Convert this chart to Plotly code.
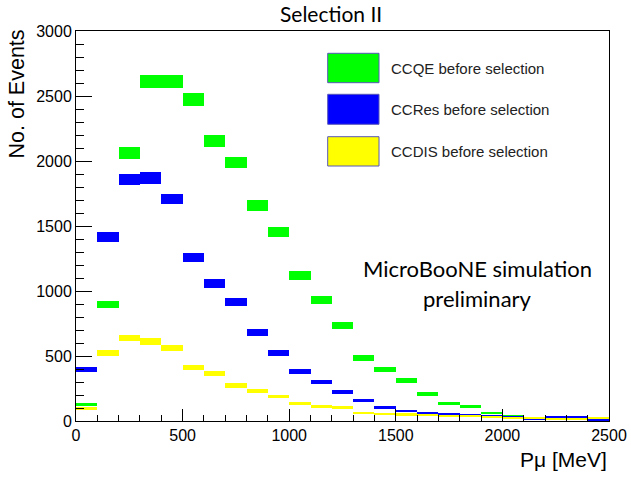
import numpy as np
import plotly.graph_objects as go

# Muon momentum bins, 100 MeV wide, 0-2500 MeV
bin_edges = list(range(0, 2600, 100))
bin_centers = [(a + b) / 2 for a, b in zip(bin_edges[:-1], bin_edges[1:])]

ccqe = [128, 897, 2064, 2610, 2610, 2474, 2151, 1990, 1656, 1451,
        1118, 928, 736, 487, 395, 313, 210, 131, 110, 64,
        41, 22, 21, 21, 12]
ccres = [395, 1418, 1859, 1869, 1707, 1256, 1059, 913, 682, 525,
         379, 300, 221, 156, 103, 79, 64, 54, 49, 38,
         33, 14, 33, 33, 10]
ccdis = [97, 525, 638, 613, 559, 413, 367, 274, 233, 187,
         133, 110, 103, 59, 54, 52, 47, 41, 38, 33,
         28, 25, 16, 14, 21]

series_names = ["CCQE before selection", "CCRes before selection", "CCDIS before selection"]
series_values = [ccqe, ccres, ccdis]
series_colors = ["#00ff00", "#0000ff", "#ffff00"]

x_ticks = [0, 500, 1000, 1500, 2000, 2500]
y_ticks = [0, 500, 1000, 1500, 2000, 2500, 3000]

fig = go.Figure()

# Each bin drawn as a filled error box: value +/- sqrt(N)
for name, vals, col in zip(series_names, series_values, series_colors):
    v = np.array(vals, dtype=float)
    err = np.sqrt(v)
    fig.add_trace(go.Bar(
        x=bin_centers, y=2 * err, base=v - err, width=100,
        name=name, marker=dict(color=col, line=dict(width=0)),
        showlegend=False, hoverinfo="skip",
    ))

# Legend drawn as boxes with labels, ROOT style
L, R, T, B = 76, 609, 31, 421
W, H = R - L, B - T
def px(x):
    return (x - L) / W
def py(y):
    return (B - y) / H

leg_rows = [(53.3, 82.7), (94.3, 124.3), (136.7, 166.0)]
shapes = []
annotations = []
for (y0, y1), name, col in zip(leg_rows, series_names, series_colors):
    shapes.append(dict(type="rect", xref="paper", yref="paper",
                       x0=px(327.7), x1=px(379), y0=py(y1), y1=py(y0),
                       fillcolor=col, line=dict(color="#5858b8", width=1)))
    annotations.append(dict(xref="paper", yref="paper", x=px(389), y=py((y0 + y1) / 2),
                            xanchor="left", yanchor="middle", showarrow=False,
                            text=name, font=dict(family="Liberation Sans", size=15, color="#222")))

# Titles and text
annotations += [
    dict(xref="paper", yref="paper", x=px(331), y=py(14), text="Selection II",
         showarrow=False, xanchor="center", yanchor="middle",
         font=dict(family="Lato", size=21, color="black")),
    dict(xref="paper", yref="paper", x=1.0, y=py(459), text="Pμ [MeV]",
         showarrow=False, xanchor="right", yanchor="middle",
         font=dict(family="Liberation Sans", size=21, color="black")),
    dict(xref="paper", yref="paper", x=px(16), y=py(28), text="No. of Events",
         textangle=-90, showarrow=False, xanchor="center", yanchor="top",
         font=dict(family="Liberation Sans", size=21.5, color="black")),
    dict(xref="paper", yref="paper", x=px(477.7), y=py(268), text="MicroBooNE simulation",
         showarrow=False, xanchor="center", yanchor="middle",
         font=dict(family="Lato", size=22, color="black")),
    dict(xref="paper", yref="paper", x=px(477.7), y=py(298), text="preliminary",
         showarrow=False, xanchor="center", yanchor="middle",
         font=dict(family="Lato", size=22, color="black")),
]

fig.update_layout(
    width=631, height=477,
    margin=dict(l=L, r=631 - R, t=T, b=477 - B),
    paper_bgcolor="white", plot_bgcolor="white",
    barmode="overlay", bargap=0,
    shapes=shapes, annotations=annotations,
    showlegend=False,
)
fig.update_xaxes(
    range=[0, 2500], tickvals=x_ticks, ticktext=[str(t) for t in x_ticks],
    automargin=False,
    showgrid=False, zeroline=False, showline=True, linecolor="black", linewidth=1,
    mirror=True, ticks="inside", ticklen=12, tickcolor="black", tickwidth=1,
    minor=dict(dtick=100, tick0=0, ticks="inside", ticklen=6, tickcolor="black", showgrid=False),
    tickfont=dict(family="Liberation Sans", size=16, color="black"),
)
fig.update_yaxes(
    range=[0, 3000], tickvals=y_ticks, ticktext=[str(t) for t in y_ticks],
    automargin=False,
    showgrid=False, zeroline=False, showline=True, linecolor="black", linewidth=1,
    mirror=True, ticks="inside", ticklen=16, tickcolor="black", tickwidth=1,
    minor=dict(dtick=100, tick0=0, ticks="inside", ticklen=8, tickcolor="black", showgrid=False),
    tickfont=dict(family="Liberation Sans", size=16, color="black"),
)

fig.write_html("out.html")
